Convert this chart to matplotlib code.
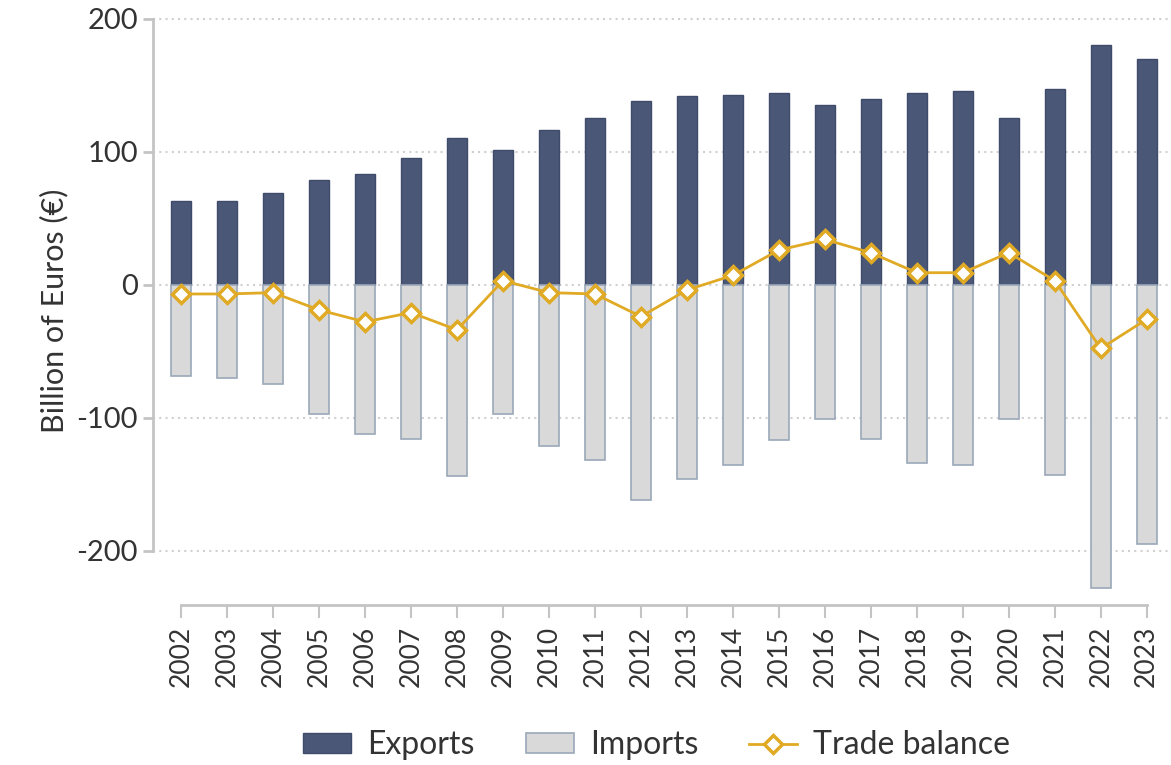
import matplotlib.pyplot as plt
import numpy as np

years = [str(y) for y in range(2002, 2024)]
exports = [63, 63, 69, 79, 83, 95, 110, 101, 116, 125, 138, 142,
           143, 144, 135, 140, 144, 146, 125, 147, 180, 170]
imports = [-69, -70, -75, -97, -112, -116, -144, -97, -121, -132, -162, -146,
           -136, -117, -101, -116, -134, -136, -101, -143, -228, -195]
balance = [-7, -7, -6, -19, -28, -21, -34, 3, -6, -7, -24, -4,
           7, 26, 34, 24, 9, 9, 24, 3, -48, -26]

plt.rcParams.update({
    'font.family': ['Lato', 'DejaVu Sans'],
    'font.size': 20,
    'text.color': '#333333',
    'axes.unicode_minus': False,
})

fig = plt.figure(figsize=(11.71, 7.65), dpi=100)
ax = fig.add_axes([0.1307, 0.209, 0.869, 0.77])

x = np.arange(len(years))
w = 0.44
b1 = ax.bar(x, exports, width=w, color='#4b5776', edgecolor='#3f4b6a', linewidth=1,
            label='Exports', zorder=3)
b2 = ax.bar(x, imports, width=w, color='#d9d9d9', edgecolor='#9aa8b8', linewidth=1.2,
            label='Imports', zorder=3)
ln, = ax.plot(x, balance, color='#e0aa25', linewidth=2, marker='D', markersize=9,
              markerfacecolor='white', markeredgecolor='#e0aa25', markeredgewidth=2.5,
              label='Trade balance', zorder=4)

ax.set_xlim(-0.61, 21.52)
ax.set_ylim(-241, 202)
ax.set_yticks([-200, -100, 0, 100, 200])
ax.set_xticks(x)
ax.set_xticklabels(years, rotation=90)

ax.grid(axis='y', linestyle=(0, (1, 2)), color='#d0d0d0', linewidth=1.5, zorder=0)

for s in ['top', 'right']:
    ax.spines[s].set_visible(False)
ax.spines['left'].set_color('#c4c4c4')
ax.spines['left'].set_linewidth(2)
ax.spines['left'].set_bounds(-200, 200)
ax.spines['bottom'].set_color('#c4c4c4')
ax.spines['bottom'].set_linewidth(2)
ax.spines['bottom'].set_bounds(0, 21)

ax.tick_params(axis='y', length=7, width=2, color='#c4c4c4', labelsize=21,
               labelcolor='#333333', pad=4)
ax.tick_params(axis='x', length=9, width=1.5, color='#c4c4c4', labelsize=19,
               labelcolor='#333333', pad=6)

ax.set_ylabel('Billion of Euros (€)', fontsize=22, color='#333333', labelpad=6)

ax.legend([b1, b2, ln], ['Exports', 'Imports', 'Trade balance'],
          loc='center', bbox_to_anchor=(0.495, -0.238), ncol=3, frameon=False,
          fontsize=23, handlelength=1.5, handleheight=0.6, columnspacing=1.6,
          handletextpad=0.5, bbox_transform=ax.transAxes)

fig.savefig('out.png', dpi=100, facecolor='white')
